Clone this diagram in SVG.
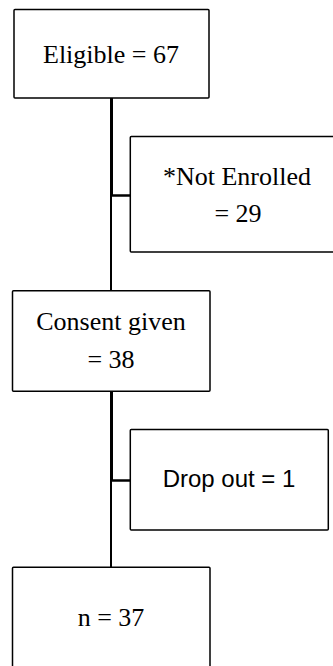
<svg xmlns="http://www.w3.org/2000/svg" width="333" height="666" viewBox="0 0 333 666">
<style>
.box{fill:#fff;stroke:#000;stroke-width:1.5}
.t{font-family:"Liberation Serif","Times New Roman",serif;font-size:26px;fill:#000;text-anchor:middle}
.s{font-family:"Liberation Sans",Arial,sans-serif;font-size:24px;fill:#000;text-anchor:middle}
.c{stroke:#000;fill:none}
</style>
<rect width="333" height="666" fill="#fff"/>
<g id="connectors">
<line class="c" x1="111.5" y1="98" x2="111.5" y2="196" stroke-width="3"/>
<line class="c" x1="111" y1="196" x2="111" y2="291" stroke-width="2"/>
<line class="c" x1="111" y1="195.5" x2="130" y2="195.5" stroke-width="2.5"/>
<line class="c" x1="111.5" y1="391" x2="111.5" y2="481" stroke-width="3"/>
<line class="c" x1="111" y1="481" x2="111" y2="567" stroke-width="2"/>
<line class="c" x1="111" y1="480.5" x2="130" y2="480.5" stroke-width="2.5"/>
</g>
<g id="eligible">
<rect class="box" x="14" y="9.5" width="195" height="88.5" rx="1"/>
<text class="t" x="111" y="62.5">Eligible = 67</text>
</g>
<g id="not-enrolled">
<rect class="box" x="130.3" y="136.5" width="215" height="115.5" rx="1"/>
<text class="t" x="237" y="185">*Not Enrolled</text>
<text class="t" x="238" y="221.5">= 29</text>
</g>
<g id="consent">
<rect class="box" x="12.5" y="290.7" width="197.5" height="100.5" rx="1"/>
<text class="t" x="111" y="330">Consent given</text>
<text class="t" x="111" y="368">= 38</text>
</g>
<g id="dropout">
<rect class="box" x="130.3" y="429.5" width="198" height="100.5" rx="1"/>
<text class="s" x="229" y="487">Drop out = 1</text>
</g>
<g id="final">
<rect class="box" x="12.5" y="567.3" width="197.5" height="110" rx="1"/>
<text class="t" x="111" y="626">n = 37</text>
</g>
</svg>
